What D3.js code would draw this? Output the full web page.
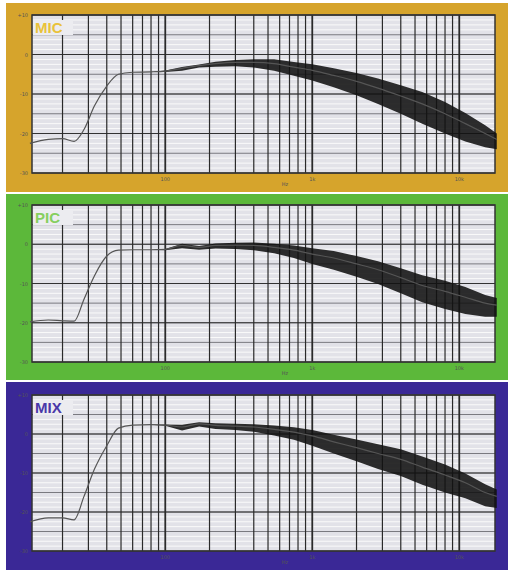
<!DOCTYPE html>
<html>
<head>
<meta charset="utf-8">
<script src="https://cdn.jsdelivr.net/npm/d3@7"></script>
<style>body{margin:0;background:#fff;}</style>
</head>
<body>
<script>
// shared frequency points (Hz)
var freqs = [12,16,20,24,28,33,40,48,60,80,100,130,170,220,300,400,550,750,1000,1400,2000,2800,4000,5600,8000,11000,15000,18000];

// level in dB per panel
var micLevel = [-22.5,-21.5,-21.3,-22,-19,-13,-8,-5,-4.5,-4.4,-4.2,-3.5,-2.8,-2.3,-2,-2,-2.3,-3.2,-4,-5.3,-6.8,-8.5,-10.5,-12.5,-15,-17.5,-20,-21.5];
var picLevel = [-19.8,-19.3,-19.5,-19.6,-14,-8,-3,-1.5,-1.4,-1.4,-1.3,-0.3,-0.8,-0.3,-0.2,-0.3,-0.8,-1.5,-2.5,-3.5,-5,-6.5,-8.5,-10.5,-12,-13.5,-15,-15.5];
var mixLevel = [-22.5,-21.5,-21.5,-22,-16,-9,-3,1.5,2.3,2.4,2.3,1.8,2.6,2.2,2,1.8,1.2,0.5,-0.5,-2,-3.5,-5,-6.5,-8.5,-10.5,-12.5,-15,-16];

// half width of the noisy band (dB)
var micSpread = [0,0,0,0,0,0,0,0,0,0,0.2,0.6,0.5,0.8,1,1.3,1.8,2.2,2.6,3,3.5,4,4.5,5,5,4.5,3.5,2.5];
var picSpread = [0,0,0,0,0,0,0,0,0,0,0.2,0.7,0.6,0.8,1,1.2,1.5,2,2.5,3,3.3,3.6,4,4.3,4.5,4.3,3.5,3];
var mixSpread = [0,0,0,0,0,0,0,0,0,0,0.2,0.9,0.7,0.9,1,1.2,1.6,2,2.5,3,3.5,4,4.3,4.5,4.5,4,3.5,3];

var panels = [
  {name: "MIC", level: micLevel, spread: micSpread, color: "#d6a42c", text: "#e9c23a", top: 3, bottom: 192, pTop: 15, pBottom: 173},
  {name: "PIC", level: picLevel, spread: picSpread, color: "#5cb83a", text: "#86cf5e", top: 194, bottom: 380, pTop: 205, pBottom: 362},
  {name: "MIX", level: mixLevel, spread: mixSpread, color: "#3a2896", text: "#4a38a8", top: 382, bottom: 570, pTop: 395, pBottom: 551}
];

var yTicks = [10, 0, -10, -20, -30];
var yTickLabels = ["+10", "0", "-10", "-20", "-30"];
var xTicks = [100, 1000, 10000];
var xTickLabels = ["100", "1k", "10k"];

var svg = d3.select("body").append("svg")
  .attr("width", 513)
  .attr("height", 575);

// vertical grid at 1..9 x 10^n
var gridFreqs = [];
[10, 100, 1000, 10000].forEach(function(dec) {
  for (var k = 1; k < 10; k++) gridFreqs.push(dec * k);
});

panels.forEach(function(p) {
  svg.append("rect")
    .attr("x", 6).attr("y", p.top)
    .attr("width", 502).attr("height", p.bottom - p.top)
    .attr("fill", p.color);

  var x = d3.scaleLog().domain([12.4, 17500]).range([32, 495]);
  var y = d3.scaleLinear().domain([10, -30]).range([p.pTop, p.pBottom]);

  var g = svg.append("g");
  g.append("rect")
    .attr("x", 32).attr("y", p.pTop)
    .attr("width", 463).attr("height", p.pBottom - p.pTop)
    .attr("fill", "#e2e2e8");

  // minor horizontal lines
  g.selectAll(".minor")
    .data(d3.range(10, -30, -1.25))
    .enter().append("line")
    .attr("x1", 32).attr("x2", 495)
    .attr("y1", d => y(d)).attr("y2", d => y(d))
    .attr("stroke", d => d % 5 == 0 ? "#7a7a80" : "#fafafa")
    .attr("stroke-width", 1);

  g.selectAll(".major")
    .data(yTicks)
    .enter().append("line")
    .attr("x1", 32).attr("x2", 495)
    .attr("y1", d => y(d)).attr("y2", d => y(d))
    .attr("stroke", "#333").attr("stroke-width", 1.2);

  g.selectAll(".vgrid")
    .data(gridFreqs.filter(f => f > 12.4 && f < 17500))
    .enter().append("line")
    .attr("x1", d => x(d)).attr("x2", d => x(d))
    .attr("y1", p.pTop).attr("y2", p.pBottom)
    .attr("stroke", "#2a2a2a")
    .attr("stroke-width", d => String(d)[0] == "1" ? 1.8 : 1.2);

  g.append("rect")
    .attr("x", 32).attr("y", p.pTop)
    .attr("width", 463).attr("height", p.pBottom - p.pTop)
    .attr("fill", "none").attr("stroke", "#333").attr("stroke-width", 1.5);

  var pts = freqs.map(function(f, i) {
    return {f: f, v: p.level[i], s: p.spread[i]};
  });

  g.append("path")
    .datum(pts)
    .attr("fill", "#111")
    .attr("fill-opacity", 0.88)
    .attr("d", d3.area()
      .x(d => x(d.f))
      .y0(d => y(d.v - d.s))
      .y1(d => y(d.v + d.s * 0.6))
      .curve(d3.curveLinear));

  g.append("path")
    .datum(pts)
    .attr("fill", "none")
    .attr("stroke", "#555")
    .attr("stroke-width", 1.2)
    .attr("d", d3.line()
      .x(d => x(d.f))
      .y(d => y(d.v))
      .curve(d3.curveMonotoneX));

  // tick labels
  g.selectAll(".ylab")
    .data(yTicks)
    .enter().append("text")
    .attr("x", 28).attr("y", d => y(d) + 2)
    .attr("text-anchor", "end")
    .attr("font-family", "DejaVu Sans").attr("font-size", 5)
    .attr("fill", "#555")
    .text((d, i) => yTickLabels[i]);

  g.selectAll(".xlab")
    .data(xTicks)
    .enter().append("text")
    .attr("x", d => x(d)).attr("y", p.pBottom + 8)
    .attr("text-anchor", "middle")
    .attr("font-family", "DejaVu Sans").attr("font-size", 5)
    .attr("fill", "#555")
    .text((d, i) => xTickLabels[i]);

  g.append("text")
    .attr("x", 285).attr("y", p.pBottom + 13)
    .attr("text-anchor", "middle")
    .attr("font-family", "DejaVu Sans").attr("font-size", 5)
    .attr("fill", "#555")
    .text("Hz");

  g.append("rect")
    .attr("x", 33).attr("y", p.pTop + 5)
    .attr("width", 40).attr("height", 15)
    .attr("fill", "#ececf0");
  g.append("text")
    .attr("x", 35).attr("y", p.pTop + 18)
    .attr("font-family", "Liberation Sans").attr("font-size", 15)
    .attr("font-weight", "bold")
    .attr("fill", p.text)
    .text(p.name);
});
</script>
</body>
</html>
